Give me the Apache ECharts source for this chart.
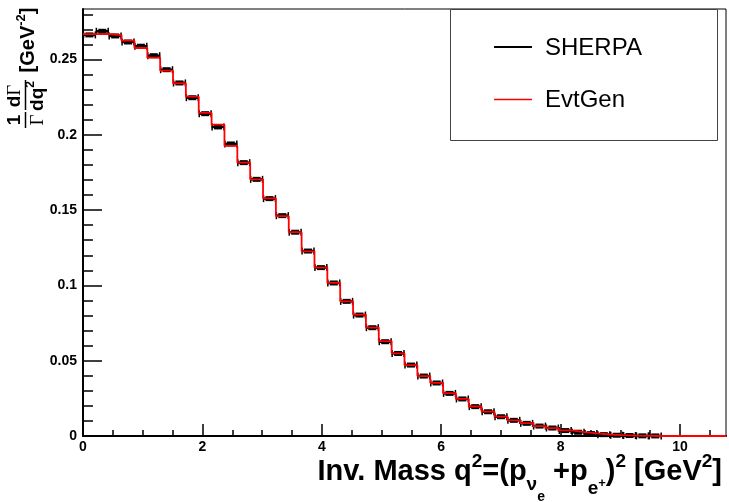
<!DOCTYPE html>
<html>
<head>
<meta charset="utf-8">
<script src="https://cdn.jsdelivr.net/npm/echarts@6/dist/echarts.min.js"></script>
<style>
  html, body { margin: 0; padding: 0; background: #fff; }
  #chart { width: 729px; height: 502px; }
</style>
</head>
<body>
<div id="chart"></div>
<script>
// histogram range and binning
const xMin = 0;
const xMax = 10.77;
const nBins = 50;

// SHERPA points (bins 46-50 are empty)
const sherpa = [
  0.2663, 0.2687, 0.2656, 0.2616, 0.2588, 0.2525, 0.2432, 0.2344, 0.2246, 0.2140,
  0.2052, 0.1939, 0.1815, 0.1704, 0.1576, 0.1463, 0.1353, 0.1228, 0.1118, 0.1016,
  0.0894, 0.0803, 0.0719, 0.0626, 0.0548, 0.0471, 0.0398, 0.0352, 0.0283, 0.0246,
  0.0195, 0.0161, 0.0128, 0.0104, 0.0084, 0.0066, 0.0053, 0.0036, 0.0025, 0.0016,
  0.0009, 0.0005, 0.0003, 0.0001, 0.00005, null, null, null, null, null,
];

// EvtGen histogram
const evtgen = [
  0.2668, 0.2669, 0.2662, 0.2625, 0.2576, 0.2512, 0.2426, 0.2342, 0.2253, 0.2146,
  0.2067, 0.1926, 0.1815, 0.1704, 0.1578, 0.1460, 0.1353, 0.1226, 0.1118, 0.1016,
  0.0894, 0.0806, 0.0720, 0.0630, 0.0549, 0.0471, 0.0398, 0.0353, 0.0284, 0.0246,
  0.0196, 0.0162, 0.0128, 0.0104, 0.0085, 0.0066, 0.0052, 0.0037, 0.0026, 0.0017,
  0.0010, 0.0006, 0.0003, 0.0001, 0, 0, 0, 0, 0, 0,
];

const xMajor = [0, 2, 4, 6, 8, 10];
const xMinor = [0.5, 1, 1.5, 2.5, 3, 3.5, 4.5, 5, 5.5, 6.5, 7, 7.5, 8.5, 9, 9.5, 10.5];
const yMajor = [0, 0.05, 0.1, 0.15, 0.2, 0.25];
const yLabels = ["0", "0.05", "0.1", "0.15", "0.2", "0.25"];
const yMinor = [
  0.01, 0.02, 0.03, 0.04, 0.06, 0.07, 0.08, 0.09, 0.11, 0.12, 0.13, 0.14,
  0.16, 0.17, 0.18, 0.19, 0.21, 0.22, 0.23, 0.24, 0.26, 0.27, 0.28,
];
const yMax = 0.2835;

const binWidth = (xMax - xMin) / nBins;
const edges = [];
for (let i = 0; i <= nBins; i++) edges.push(xMin + i * binWidth);

const evtgenStep = edges.map((e, i) => [e, evtgen[Math.min(i, nBins - 1)]]);
const sherpaPts = [];
sherpa.forEach((v, i) => {
  if (v !== null) sherpaPts.push([edges[i], edges[i + 1], v]);
});

const font = "Liberation Sans, Arial, Helvetica, sans-serif";

const chart = echarts.init(document.getElementById("chart"));

function renderPoint(params, api) {
  const lo = api.coord([api.value(0), api.value(2)]);
  const hi = api.coord([api.value(1), api.value(2)]);
  const mid = (lo[0] + hi[0]) / 2;
  const cap = { stroke: "#000", lineWidth: 1.5 };
  return {
    type: "group",
    children: [
      { type: "line", shape: { x1: lo[0], y1: lo[1], x2: hi[0], y2: hi[1] }, style: { stroke: "#000", lineWidth: 2.5 } },
      { type: "line", shape: { x1: lo[0] + 0.5, y1: lo[1] - 3.5, x2: lo[0] + 0.5, y2: lo[1] + 3.5 }, style: cap },
      { type: "line", shape: { x1: hi[0] - 0.5, y1: hi[1] - 3.5, x2: hi[0] - 0.5, y2: hi[1] + 3.5 }, style: cap },
      { type: "rect", shape: { x: mid - 4, y: lo[1] - 2.5, width: 8, height: 5 }, style: { fill: "#000" } },
    ],
  };
}

const option = {
  animation: false,
  backgroundColor: "#fff",
  grid: {
    left: 83,
    right: 3,
    top: 9,
    bottom: 66,
    show: true,
    borderColor: "#000",
    borderWidth: 1,
    backgroundColor: "transparent",
  },
  xAxis: [
    {
      type: "value",
      min: xMin,
      max: xMax,
      axisLine: { lineStyle: { color: "#000", width: 2 } },
      axisTick: { inside: true, length: 12, customValues: xMajor, lineStyle: { color: "#000", width: 1.5 } },
      axisLabel: {
        customValues: xMajor,
        color: "#000",
        fontFamily: font,
        fontWeight: "bold",
        fontSize: 14,
        margin: 4,
      },
      splitLine: { show: false },
    },
    {
      type: "value",
      min: xMin,
      max: xMax,
      position: "bottom",
      axisLine: { show: false },
      axisTick: { inside: true, length: 6, customValues: xMinor, lineStyle: { color: "#000", width: 1.5 } },
      axisLabel: { show: false },
      splitLine: { show: false },
    },
  ],
  yAxis: [
    {
      type: "value",
      min: 0,
      max: yMax,
      axisLine: { show: true, lineStyle: { color: "#000", width: 2 } },
      axisTick: { show: true, inside: true, length: 19, customValues: yMajor, lineStyle: { color: "#000", width: 1.5 } },
      axisLabel: {
        customValues: yMajor,
        formatter: (v) => yLabels[yMajor.findIndex((m) => Math.abs(m - v) < 1e-9)],
        color: "#000",
        fontFamily: font,
        fontWeight: "bold",
        fontSize: 14,
        margin: 6,
      },
      splitLine: { show: false },
    },
    {
      type: "value",
      min: 0,
      max: yMax,
      position: "left",
      axisLine: { show: false },
      axisTick: { show: true, inside: true, length: 10, customValues: yMinor, lineStyle: { color: "#000", width: 1.5 } },
      axisLabel: { show: false },
      splitLine: { show: false },
    },
  ],
  series: [
    {
      name: "SHERPA",
      type: "custom",
      renderItem: renderPoint,
      data: sherpaPts,
      encode: { x: [0, 1], y: 2 },
      z: 3,
    },
    {
      name: "EvtGen",
      type: "line",
      step: "end",
      data: evtgenStep,
      symbol: "none",
      lineStyle: { color: "#ff0000", width: 1.8 },
      z: 4,
    },
  ],
  graphic: [
    // legend
    {
      type: "rect",
      shape: { x: 450.5, y: 9.5, width: 267, height: 131 },
      style: { fill: "none", stroke: "#444", lineWidth: 1 },
      z: 10,
    },
    { type: "line", shape: { x1: 494, y1: 47, x2: 532, y2: 47 }, style: { stroke: "#000", lineWidth: 2 }, z: 10 },
    {
      type: "text", x: 545, y: 48, z: 10,
      style: { text: "SHERPA", font: "24px " + font, fill: "#000", verticalAlign: "middle" },
    },
    { type: "line", shape: { x1: 494, y1: 99.5, x2: 532, y2: 99.5 }, style: { stroke: "#ff0000", lineWidth: 1.5 }, z: 10 },
    {
      type: "text", x: 545, y: 100, z: 10,
      style: { text: "EvtGen", font: "24px " + font, fill: "#000", verticalAlign: "middle" },
    },
    // x axis title
    {
      type: "text", x: 722, y: 472, z: 10,
      style: {
        text: "{m|Inv. Mass q}{sup|2}{m|=(p}{sub|ν}{ss|e}{m| +p}{sub2|e}{sp|+}{m|)}{sup|2}{m| [GeV}{sup|2}{m|]}",
        align: "right",
        verticalAlign: "middle",
        rich: {
          m: { fontFamily: font, fontWeight: "bold", fontSize: 29, fill: "#000" },
          sup: { fontFamily: font, fontWeight: "bold", fontSize: 19, fill: "#000", padding: [0, 0, 20, 0] },
          sub: { fontFamily: font, fontWeight: "bold", fontSize: 19, fill: "#000", padding: [26, 0, 0, 0] },
          ss: { fontFamily: font, fontWeight: "bold", fontSize: 14, fill: "#000", padding: [50, 0, 0, 0] },
          sub2: { fontFamily: font, fontWeight: "bold", fontSize: 19, fill: "#000", padding: [34, 0, 0, 0] },
          sp: { fontFamily: font, fontWeight: "bold", fontSize: 13, fill: "#000", padding: [23, 0, 0, 0] },
        },
      },
    },
    // y axis title, rotated
    {
      type: "group",
      x: 0,
      y: 130,
      rotation: Math.PI / 2,
      z: 10,
      children: [
        { type: "text", x: 10, y: 15, style: { text: "1", font: "bold 19px " + font, fill: "#000", align: "center", verticalAlign: "middle" } },
        { type: "line", shape: { x1: 2, y1: 25.5, x2: 18, y2: 25.5 }, style: { stroke: "#000", lineWidth: 1.5 } },
        { type: "text", x: 10, y: 38, style: { text: "Γ", font: "19px Liberation Serif, serif", fill: "#000", align: "center", verticalAlign: "middle" } },
        {
          type: "text", x: 34, y: 15,
          style: {
            text: "{b|d}{g|Γ}", align: "center", verticalAlign: "middle",
            rich: {
              b: { fontFamily: font, fontWeight: "bold", fontSize: 19, fill: "#000" },
              g: { fontFamily: "Liberation Serif, serif", fontSize: 19, fill: "#000" },
            },
          },
        },
        { type: "line", shape: { x1: 20, y1: 25.5, x2: 50, y2: 25.5 }, style: { stroke: "#000", lineWidth: 1.5 } },
        {
          type: "text", x: 34, y: 38,
          style: {
            text: "{b|dq}{s|2}", align: "center", verticalAlign: "middle",
            rich: {
              b: { fontFamily: font, fontWeight: "bold", fontSize: 19, fill: "#000" },
              s: { fontFamily: font, fontWeight: "bold", fontSize: 12, fill: "#000", padding: [0, 0, 14, 0] },
            },
          },
        },
        {
          type: "text", x: 90, y: 28,
          style: {
            text: "{b|[GeV}{s|-2}{b|]}", align: "center", verticalAlign: "middle",
            rich: {
              b: { fontFamily: font, fontWeight: "bold", fontSize: 20, fill: "#000" },
              s: { fontFamily: font, fontWeight: "bold", fontSize: 13, fill: "#000", padding: [0, 0, 14, 0] },
            },
          },
        },
      ],
    },
  ],
};

chart.setOption(option);
</script>
</body>
</html>
